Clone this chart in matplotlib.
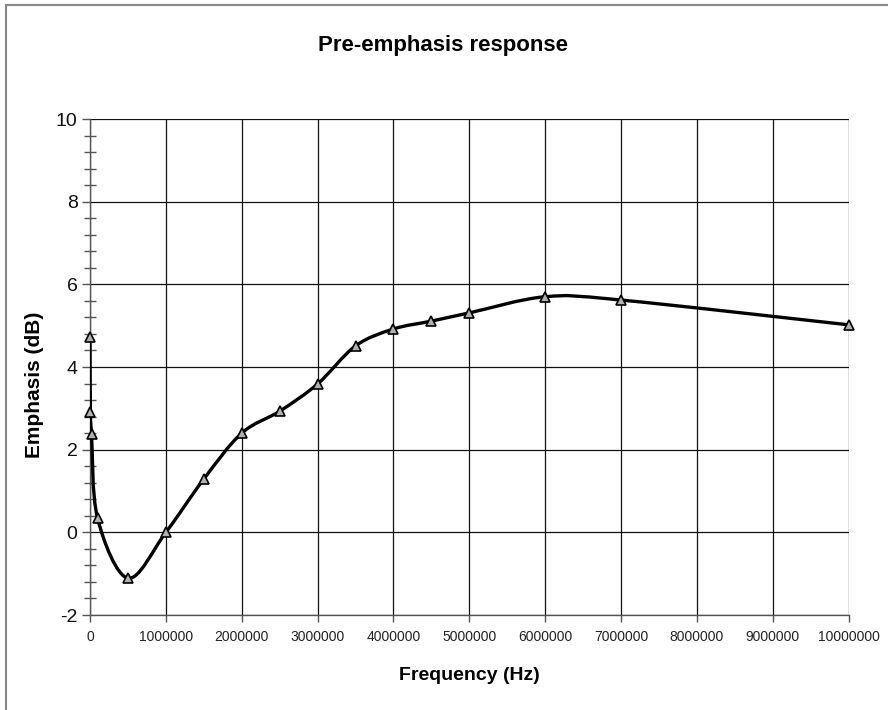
import numpy as np
import matplotlib
matplotlib.use("Agg")
import matplotlib.pyplot as plt
from matplotlib.path import Path
from matplotlib.patches import PathPatch
from matplotlib.lines import Line2D
from matplotlib.ticker import MultipleLocator, FuncFormatter

# ---- data ----
freq_hz = [0, 5000, 20000, 100000, 500000, 1000000, 1500000, 2000000, 2500000,
           3000000, 3500000, 4000000, 4500000, 5000000, 6000000, 7000000, 10000000]
emphasis_db = [4.73, 2.92, 2.38, 0.34, -1.11, 0.0, 1.29, 2.40, 2.93,
               3.59, 4.51, 4.92, 5.11, 5.31, 5.70, 5.62, 5.02]
x_ticks = [0, 1000000, 2000000, 3000000, 4000000, 5000000, 6000000, 7000000,
           8000000, 9000000, 10000000]
y_ticks = [-2, 0, 2, 4, 6, 8, 10]

title = "Pre-emphasis response"
x_label = "Frequency (Hz)"
y_label = "Emphasis (dB)"

W, H = 888, 710
fig = plt.figure(figsize=(W / 100, H / 100), dpi=100)
plt.rcParams['font.family'] = ['Liberation Sans', 'DejaVu Sans']

# axes position in pixels
L, R, T, B = 90, 848.7, 119, 615
ax = fig.add_axes([L / W, 1 - B / H, (R - L) / W, (B - T) / H])
ax.set_xlim(0, 10000000)
ax.set_ylim(-2, 10)

ax.set_xticks(x_ticks)
ax.set_yticks(y_ticks)
ax.yaxis.set_minor_locator(MultipleLocator(0.4))
ax.xaxis.set_major_formatter(FuncFormatter(lambda v, p: f"{int(round(v))}"))
ax.yaxis.set_major_formatter(FuncFormatter(lambda v, p: f"{int(round(v))}"))

ax.grid(True, which='major', color='#111111', linewidth=0.9)
ax.set_axisbelow(True)
for side in ['top', 'right']:
    ax.spines[side].set_visible(False)
for side in ['left', 'bottom']:
    ax.spines[side].set_color('#555555')
    ax.spines[side].set_linewidth(1.0)

ax.tick_params(axis='x', which='major', direction='out', length=5, width=1,
               color='#555555', labelsize=10, labelcolor='#222222', pad=6)
ax.tick_params(axis='y', which='major', direction='out', length=6, width=1,
               color='#555555', labelsize=14, labelcolor='#111111', pad=3)
ax.tick_params(axis='y', which='minor', direction='inout', length=8, width=1,
               color='#555555')

# smooth curve (Catmull-Rom style Bezier through the data points)
xs = np.array(freq_hz, dtype=float)
ys = np.array(emphasis_db, dtype=float)
pts = np.column_stack([xs, ys])
n = len(pts)
verts = [tuple(pts[0])]
codes = [Path.MOVETO]
for i in range(n - 1):
    p0 = pts[i - 1] if i > 0 else pts[i]
    p1 = pts[i]
    p2 = pts[i + 1]
    p3 = pts[i + 2] if i + 2 < n else pts[i + 1]
    c1 = p1 + (p2 - p0) / 6.0
    c2 = p2 - (p3 - p1) / 6.0
    verts += [tuple(c1), tuple(c2), tuple(p2)]
    codes += [Path.CURVE4] * 3
patch = PathPatch(Path(verts, codes), facecolor='none', edgecolor='black',
                  linewidth=2.4, zorder=3, capstyle='round', joinstyle='round')
ax.add_patch(patch)
ax.plot(xs, ys, linestyle='none', marker='^', markersize=6.5,
        markerfacecolor='#b0b0b0', markeredgecolor='black',
        markeredgewidth=1.2, zorder=4, clip_on=False)

# texts
fig.text(443 / W, 1 - 45 / H, title, ha='center', va='center',
         fontsize=16, fontweight='bold')
fig.text(469 / W, 1 - 676 / H, x_label, ha='center', va='center',
         fontsize=14, fontweight='bold')
fig.text(35 / W, 1 - 385 / H, y_label, ha='center', va='center',
         fontsize=15, fontweight='bold', rotation=90)

# outer chart border (left and top visible)
fig.add_artist(Line2D([6 / W, 6 / W], [0, 1 - 5 / H], transform=fig.transFigure,
                      color='#888888', linewidth=1.5))
fig.add_artist(Line2D([6 / W, 1], [1 - 5 / H, 1 - 5 / H], transform=fig.transFigure,
                      color='#888888', linewidth=1.5))

fig.savefig("out.png", dpi=100)
